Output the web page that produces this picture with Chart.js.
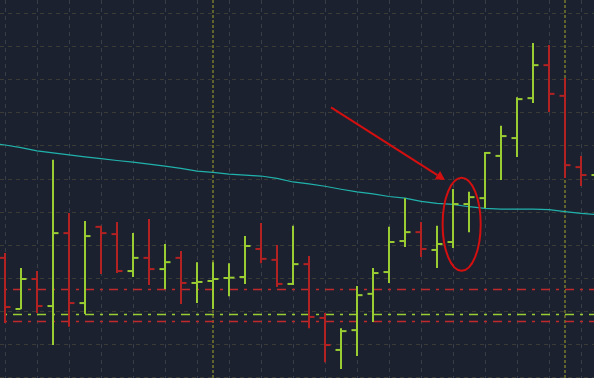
<!DOCTYPE html>
<html>
<head>
<meta charset="utf-8">
<script src="https://cdn.jsdelivr.net/npm/chart.js@4"></script>
<style>
  html, body { margin: 0; padding: 0; background: #1c2130; }
  canvas { display: block; }
</style>
</head>
<body>
<canvas id="myChart" width="594" height="378"></canvas>
<script>
// OHLC per bar (bar index = position in the arrays)
const openP  = [136.1,120.6,129.7,121.5,143.6,122.4,145.5,143.3,132.1,136.1,132.7,136.1,128.5,129.1,130.0,130.3,138.8,135.5,128.2,134.2,117.9,108.2,114.2,125.2,131.8,141.2,143.9,138.5,140.9,152.4,154.2,167.0,172.4,184.5,194.5,185.2,163.6,161.2];
const highP  = [137.6,133.0,132.1,165.8,149.7,147.3,145.8,147.0,143.6,147.9,140.3,138.2,134.8,134.8,134.5,142.7,146.7,140.0,145.8,136.7,119.4,114.8,127.6,133.0,145.5,154.2,147.0,145.8,157.0,156.1,168.2,176.1,184.8,201.2,200.6,190.6,167.0,163.3];
const lowP   = [116.4,120.5,119.4,109.7,115.2,119.1,131.2,131.5,130.3,127.9,126.7,122.1,122.4,120.6,124.5,128.2,134.5,127.3,127.9,114.8,104.5,102.4,106.4,116.7,128.5,139.4,136.4,133.0,139.1,143.9,151.2,159.7,166.7,183.0,180.3,160.3,157.9,156.7];
const closeP = [121.2,129.7,121.5,143.6,122.4,142.7,143.6,132.1,136.1,132.7,134.8,128.5,128.8,129.7,130.1,139.7,135.8,128.2,134.2,118.2,109.7,113.9,124.8,131.5,140.9,143.9,138.8,140.3,152.4,154.5,167.9,173.0,184.2,194.5,185.8,164.2,161.2,162.1];

// moving average, first value belongs to bar index -1
const maStart = -1;
const maValues = [171.0,170.3,169.5,168.5,167.9,167.3,166.7,166.2,165.6,165.1,164.5,163.9,163.2,162.4,162.0,161.5,161.2,160.9,160.2,159.1,158.5,157.8,156.9,156.1,155.5,154.7,154.2,153.2,152.6,152.3,151.6,151.1,150.9,150.9,150.9,150.7,150.1,149.6,149.2];

// horizontal levels and session breaks
const levelPrices = [126.52, 118.94, 116.82];
const levelColors = ['#bf2a2a', '#9acd32', '#bf2a2a'];
const sessionBreaks = [13, 35];

// grid ticks
const xTicks = [0,2,4,6,8,10,12,14,16,18,20,22,24,26,28,30,32,34,36];
const yTicks = [100,110,120,130,140,150,160,170,180,190,200,210];

// annotation (data units)
const arrowFrom = [20.375, 181.7];
const arrowTo = [27.5, 159.7];
const ellipseCenter = [28.54, 146.3];
const ellipseRadius = [1.19, 14.1];

const xMin = -0.3125, xMax = 36.8125;
const yMin = 99.697, yMax = 214.2424;

const upColor = '#9acd32';
const downColor = '#b22222';
const barColors = openP.map((o, i) => closeP[i] >= o ? upColor : downColor);

const annotate = {
  id: 'annotate',
  beforeDraw(chart) {
    const c = chart.ctx;
    c.save();
    c.fillStyle = '#1c2130';
    c.fillRect(0, 0, chart.width, chart.height);
    c.restore();
  },
  afterDatasetsDraw(chart) {
    const c = chart.ctx, xs = chart.scales.x, ys = chart.scales.y;
    c.save();
    c.strokeStyle = '#d40f0f';
    c.fillStyle = '#d40f0f';
    c.lineWidth = 2;
    // ellipse
    const cx = xs.getPixelForValue(ellipseCenter[0]);
    const cy = ys.getPixelForValue(ellipseCenter[1]);
    const rx = Math.abs(xs.getPixelForValue(ellipseCenter[0] + ellipseRadius[0]) - cx);
    const ry = Math.abs(ys.getPixelForValue(ellipseCenter[1] + ellipseRadius[1]) - cy);
    c.beginPath();
    c.ellipse(cx, cy, rx, ry, 0, 0, Math.PI * 2);
    c.stroke();
    // arrow
    const x1 = xs.getPixelForValue(arrowFrom[0]), y1 = ys.getPixelForValue(arrowFrom[1]);
    const x2 = xs.getPixelForValue(arrowTo[0]), y2 = ys.getPixelForValue(arrowTo[1]);
    const len = Math.hypot(x2 - x1, y2 - y1);
    const ux = (x2 - x1) / len, uy = (y2 - y1) / len;
    const headLen = 9, headW = 5;
    c.beginPath();
    c.moveTo(x1, y1);
    c.lineTo(x2 - ux * headLen, y2 - uy * headLen);
    c.stroke();
    c.beginPath();
    c.moveTo(x2, y2);
    c.lineTo(x2 - ux * headLen - uy * headW, y2 - uy * headLen + ux * headW);
    c.lineTo(x2 - ux * headLen + uy * headW, y2 - uy * headLen - ux * headW);
    c.closePath();
    c.fill();
    c.restore();
  }
};

const datasets = [];

// open / close ticks
datasets.push({
  type: 'line',
  order: 0,
  showLine: false,
  data: openP.map((v, i) => ({ x: i - 0.1875, y: v })),
  pointStyle: 'line',
  pointRadius: 2.5,
  pointBorderWidth: 2,
  pointBorderColor: barColors,
  pointBackgroundColor: barColors
});
datasets.push({
  type: 'line',
  order: 0,
  showLine: false,
  data: closeP.map((v, i) => ({ x: i + 0.1875, y: v })),
  pointStyle: 'line',
  pointRadius: 2.5,
  pointBorderWidth: 2,
  pointBorderColor: barColors,
  pointBackgroundColor: barColors
});

// high-low range
datasets.push({
  type: 'bar',
  order: 1,
  data: highP.map((h, i) => ({ x: i, y: [lowP[i], h] })),
  backgroundColor: barColors,
  borderWidth: 0,
  barThickness: 2,
  inflateAmount: 0
});

// moving average
datasets.push({
  type: 'line',
  order: 2,
  data: maValues.map((v, i) => ({ x: maStart + i, y: v })),
  borderColor: '#20b2aa',
  borderWidth: 1.2,
  pointRadius: 0,
  tension: 0
});

levelPrices.forEach((p, k) => {
  datasets.push({
    type: 'line',
    order: 3,
    data: [{ x: xMin, y: p }, { x: xMax, y: p }],
    borderColor: levelColors[k],
    borderWidth: 1.4,
    borderDash: [9, 6, 3, 6],
    borderDashOffset: 11,
    pointRadius: 0
  });
});

sessionBreaks.forEach(b => {
  datasets.push({
    type: 'line',
    order: 4,
    data: [{ x: b, y: yMin }, { x: b, y: yMax }],
    borderColor: '#a5a52a',
    borderWidth: 1,
    borderDash: [3, 2],
    pointRadius: 0
  });
});

new Chart(document.getElementById('myChart'), {
  type: 'bar',
  data: { datasets: datasets },
  plugins: [annotate],
  options: {
    responsive: false,
    animation: false,
    devicePixelRatio: 1,
    layout: { padding: 0, autoPadding: false },
    plugins: { legend: { display: false }, tooltip: { enabled: false } },
    scales: {
      x: {
        type: 'linear',
        min: xMin,
        max: xMax,
        offset: false,
        afterBuildTicks: s => { s.ticks = xTicks.map(v => ({ value: v })); },
        ticks: { display: false },
        grid: { color: '#3a3f47', drawTicks: false, offset: false, lineWidth: 1 },
        border: { display: false, dash: [4, 4] }
      },
      y: {
        type: 'linear',
        min: yMin,
        max: yMax,
        beginAtZero: false,
        afterBuildTicks: s => { s.ticks = yTicks.map(v => ({ value: v })); },
        ticks: { display: false },
        grid: { color: '#3b3b36', drawTicks: false, lineWidth: 1 },
        border: { display: false, dash: [4, 4] }
      }
    }
  }
});
</script>
</body>
</html>
